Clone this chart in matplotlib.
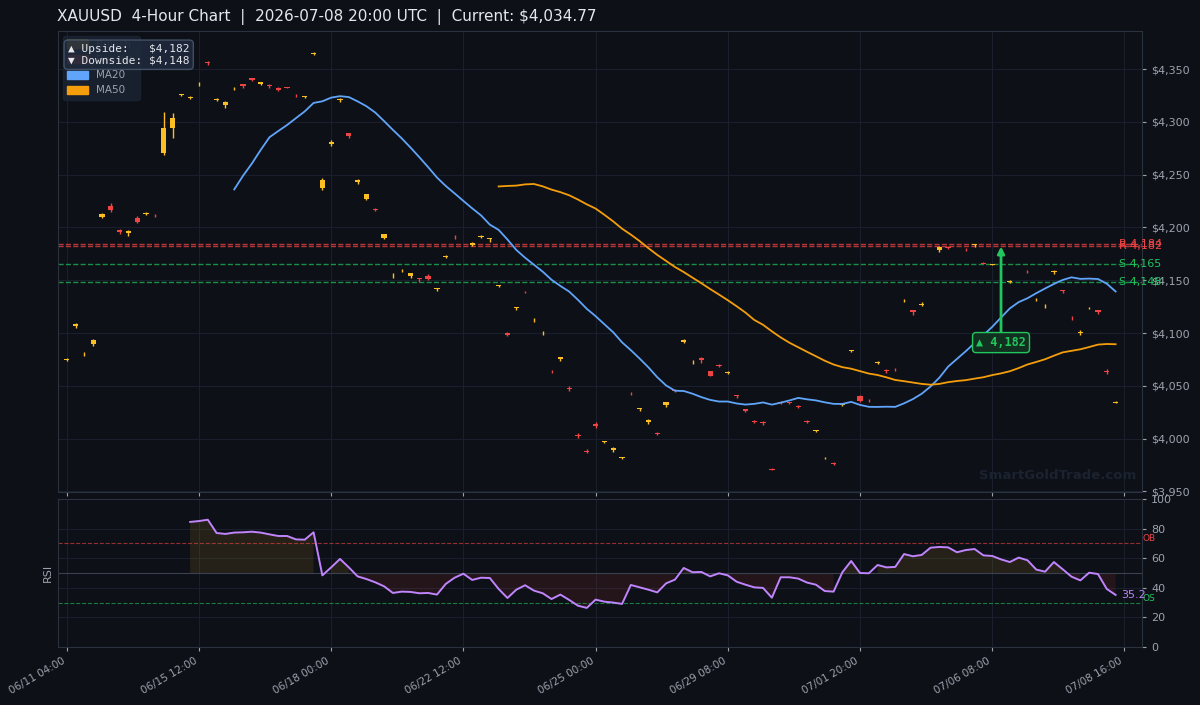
import numpy as np
import pandas as pd
import matplotlib
matplotlib.use('Agg')
import matplotlib.pyplot as plt
from matplotlib.patches import Patch
from matplotlib.ticker import FuncFormatter

# 4h candles (index based x axis)
opens = [
    4074.5, 4106.3, 4080.0, 4090.0, 4210.3, 4220.7, 4197.5, 4195.2, 4209.4, 4212.5,
    4211.3, 4270.6, 4294.2, 4325.0, 4323.0, 4335.6, 4357.0, 4321.1, 4316.0, 4331.1,
    4335.8, 4341.5, 4336.0, 4335.3, 4332.0, 4332.8, 4325.4, 4323.3, 4364.3, 4237.2,
    4279.3, 4320.4, 4289.5, 4243.3, 4227.4, 4217.6, 4190.0, 4154.1, 4158.8, 4153.6,
    4152.0, 4154.5, 4141.6, 4172.3, 4191.3, 4188.0, 4183.6, 4191.2, 4188.6, 4144.4,
    4099.7, 4124.0, 4139.2, 4112.0, 4099.8, 4063.6, 4075.5, 4047.8, 4003.8, 3988.5,
    4013.6, 3996.6, 3989.0, 3981.5, 4042.6, 4028.2, 4015.5, 4005.2, 4031.6, 4045.9,
    4092.0, 4072.5, 4076.4, 4064.0, 4069.3, 4062.6, 4041.0, 4028.0, 4016.8, 4016.0,
    3971.0, 4034.4, 4034.8, 4031.0, 4016.8, 4007.0, 3981.3, 3977.0, 4032.0, 4082.6,
    4040.3, 4036.8, 4071.6, 4065.0, 4066.3, 4130.3, 4122.0, 4126.8, 4152.0, 4178.2,
    4181.3, 4180.0, 4179.6, 4183.6, 4166.1, 4164.6, 4158.0, 4148.6, 4152.0, 4158.0,
    4131.4, 4125.5, 4157.4, 4140.6, 4115.6, 4100.0, 4124.4, 4122.0, 4064.2, 4034.2,
]
highs = [
    4076.5, 4109.2, 4082.4, 4094.0, 4213.5, 4223.0, 4199.0, 4197.5, 4210.5, 4214.5,
    4212.5, 4309.6, 4308.4, 4326.5, 4324.8, 4337.5, 4358.0, 4323.0, 4319.4, 4332.8,
    4336.0, 4341.8, 4338.0, 4335.5, 4333.0, 4333.2, 4326.8, 4324.8, 4365.8, 4246.9,
    4282.5, 4322.4, 4289.8, 4246.0, 4231.8, 4218.8, 4194.2, 4156.5, 4160.5, 4157.2,
    4152.2, 4156.0, 4142.4, 4174.0, 4192.8, 4188.0, 4186.0, 4192.8, 4190.0, 4145.2,
    4101.0, 4124.6, 4140.0, 4114.0, 4101.5, 4065.5, 4077.4, 4049.8, 4005.5, 3990.0,
    4015.5, 3998.0, 3992.0, 3982.5, 4044.0, 4028.8, 4019.0, 4006.5, 4034.6, 4047.5,
    4094.0, 4074.5, 4077.5, 4064.5, 4070.5, 4064.5, 4041.2, 4028.3, 4017.3, 4016.3,
    3972.2, 4036.0, 4035.0, 4032.2, 4017.5, 4008.5, 3982.5, 3977.8, 4034.2, 4084.3,
    4041.0, 4038.0, 4073.2, 4066.0, 4066.5, 4132.0, 4122.3, 4129.0, 4152.0, 4182.0,
    4182.5, 4180.0, 4181.0, 4184.4, 4167.0, 4165.1, 4158.0, 4150.0, 4152.0, 4159.5,
    4133.0, 4128.0, 4160.0, 4140.8, 4115.8, 4103.0, 4125.0, 4122.3, 4066.0, 4035.5,
]
lows = [
    4073.5, 4104.5, 4078.6, 4088.0, 4209.0, 4215.0, 4194.0, 4192.0, 4204.0, 4211.5,
    4209.5, 4268.7, 4284.8, 4324.0, 4321.5, 4334.0, 4354.2, 4319.6, 4313.4, 4330.0,
    4332.3, 4338.5, 4335.0, 4332.0, 4329.0, 4331.8, 4323.6, 4323.0, 4363.6, 4235.3,
    4277.0, 4318.8, 4285.0, 4241.5, 4226.0, 4215.5, 4188.6, 4152.0, 4157.5, 4152.5,
    4148.5, 4150.5, 4140.2, 4171.0, 4189.5, 4188.0, 4182.0, 4190.0, 4186.5, 4143.5,
    4097.5, 4122.0, 4138.0, 4110.5, 4098.5, 4062.0, 4073.9, 4045.5, 4000.5, 3986.0,
    4010.2, 3995.5, 3987.0, 3981.0, 4041.0, 4026.0, 4014.0, 4003.5, 4030.0, 4044.0,
    4091.0, 4071.0, 4072.0, 4059.0, 4068.0, 4061.5, 4038.5, 4025.0, 4015.0, 4013.0,
    3969.9, 4032.5, 4033.2, 4028.6, 4015.0, 4006.0, 3980.5, 3975.5, 4030.5, 4081.7,
    4035.0, 4035.0, 4070.8, 4062.5, 4063.8, 4129.0, 4117.5, 4125.5, 4152.0, 4177.0,
    4179.8, 4180.0, 4178.0, 4181.5, 4165.5, 4164.3, 4158.0, 4147.5, 4152.0, 4156.5,
    4130.2, 4123.5, 4156.0, 4137.5, 4112.5, 4098.5, 4123.0, 4118.0, 4061.0, 4034.0,
]
closes = [
    4075.0, 4108.9, 4080.3, 4093.0, 4212.9, 4217.0, 4196.0, 4196.6, 4205.4, 4213.8,
    4211.0, 4294.2, 4303.7, 4326.3, 4323.3, 4335.9, 4355.4, 4321.4, 4319.1, 4331.4,
    4334.0, 4339.6, 4337.6, 4334.2, 4330.3, 4331.8, 4325.1, 4324.5, 4365.3, 4245.0,
    4280.8, 4321.6, 4286.6, 4244.6, 4231.6, 4216.4, 4194.0, 4154.4, 4159.1, 4157.0,
    4151.0, 4151.4, 4142.3, 4172.6, 4191.0, 4188.0, 4184.9, 4191.5, 4190.0, 4145.2,
    4098.5, 4124.5, 4138.9, 4112.3, 4100.0, 4063.3, 4077.0, 4047.5, 4002.3, 3987.2,
    4012.0, 3997.6, 3991.0, 3982.2, 4042.3, 4028.8, 4018.0, 4004.9, 4034.5, 4045.6,
    4093.2, 4072.8, 4074.6, 4059.7, 4069.0, 4063.6, 4040.2, 4026.4, 4015.5, 4014.5,
    3970.7, 4034.1, 4034.0, 4029.8, 4015.6, 4008.3, 3981.6, 3975.8, 4033.3, 4084.0,
    4036.1, 4036.4, 4073.0, 4063.8, 4065.9, 4130.6, 4120.0, 4128.0, 4152.0, 4181.7,
    4181.0, 4180.0, 4179.3, 4184.3, 4165.8, 4165.1, 4158.0, 4148.9, 4152.0, 4157.7,
    4131.7, 4125.9, 4158.6, 4140.0, 4115.0, 4101.4, 4125.0, 4120.4, 4063.0, 4034.77,
]

# RSI(14), starts at candle 14
rsi_vals = [
    84.5, 85.1, 86.0, 77.0, 76.4, 77.3, 77.5, 77.9, 77.3, 76.1,
    75.0, 75.0, 72.7, 72.5, 77.5, 48.4, 53.8, 59.5, 53.8, 47.7,
    45.9, 43.7, 41.0, 36.5, 37.4, 37.2, 36.3, 36.5, 35.4, 42.6,
    46.8, 49.5, 45.3, 46.8, 46.6, 39.2, 33.1, 38.7, 41.7, 38.1,
    36.3, 32.4, 35.4, 31.8, 27.9, 26.4, 32.0, 30.6, 30.0, 29.1,
    41.9, 40.3, 38.7, 36.9, 43.0, 45.5, 53.4, 50.5, 50.7, 47.7,
    49.8, 48.4, 44.1, 42.1, 40.3, 39.9, 33.3, 47.1, 47.1, 46.2,
    43.5, 42.1, 37.8, 37.4, 50.5, 58.1, 50.0, 49.8, 55.4, 53.8,
    54.1, 62.8, 61.3, 62.2, 67.1, 67.6, 67.3, 64.0, 65.5, 66.2,
    61.9, 61.5, 59.2, 57.4, 60.4, 58.6, 52.3, 50.9, 57.4, 52.5,
    47.5, 45.0, 50.2, 49.3, 39.2, 35.2,
]
rsi_start = 14

resistance = [4184, 4182]
support = [4165, 4148]
target = 4182
tick_idx = list(range(0, 121, 15))
tick_labels = ['06/11 04:00', '06/15 12:00', '06/18 00:00', '06/22 12:00', '06/25 00:00',
               '06/29 08:00', '07/01 20:00', '07/06 08:00', '07/08 16:00']

BG = '#0d1017'
BULL = '#fbbf24'
BEAR = '#ef4444'
C_MA20 = '#60a5fa'
C_MA50 = '#f59e0b'
C_RSI = '#c084fc'
GREEN = '#22c55e'
GRID = '#1a202b'
TXT = '#9ca3af'
SPINE = '#2a323e'

o = np.array(opens); h = np.array(highs); l = np.array(lows); c = np.array(closes)
x = np.arange(len(c))
ma20 = pd.Series(c).rolling(20).mean()
ma50 = pd.Series(c).rolling(50).mean()
up = c >= o
cols = np.where(up, BULL, BEAR)

fig = plt.figure(figsize=(12, 7.05), dpi=100, facecolor=BG)
ax = fig.add_axes([0.0483, 0.3021, 0.9034, 0.6539], facecolor=BG)
ax2 = fig.add_axes([0.0483, 0.0823, 0.9034, 0.2099], facecolor=BG, sharex=ax)

for a in (ax, ax2):
    for s in a.spines.values():
        s.set_color(SPINE)
    a.grid(True, color=GRID, lw=0.8)
    a.set_axisbelow(True)
    a.yaxis.tick_right()
    a.tick_params(colors=TXT, labelsize=8, length=3)

# candles
ax.vlines(x, l, h, colors=cols, lw=1, zorder=3)
ax.bar(x, np.abs(c - o), bottom=np.minimum(o, c), width=0.6, color=cols, zorder=3, lw=0)

ax.plot(x, ma20, color=C_MA20, lw=1.3, zorder=4)
ax.plot(x, ma50, color=C_MA50, lw=1.3, zorder=4)

for v in resistance:
    ax.axhline(v, color=BEAR, ls='--', lw=1, alpha=0.75, zorder=2)
    ax.text(119.4, v, f'R {v:,}', color=BEAR, fontsize=8, va='center', ha='left')
for v in support:
    ax.axhline(v, color=GREEN, ls='--', lw=1, alpha=0.7, zorder=2)
    ax.text(119.4, v, f'S {v:,}', color=GREEN, fontsize=8, va='center', ha='left')

ax.annotate(f'\u25b2 {target:,}', xy=(106, target), xytext=(106, 4091),
            ha='center', va='center', color=GREEN, fontsize=8.5, fontweight='bold',
            family='DejaVu Sans Mono', zorder=8,
            bbox=dict(boxstyle='round,pad=0.3', fc='#12301f', ec=GREEN, lw=1),
            arrowprops=dict(arrowstyle='-|>', color=GREEN, lw=2, mutation_scale=10,
                            shrinkA=0, shrinkB=0))

ax.set_xlim(-1, 122)
ax.set_ylim(3949.5, 4386)
ax.yaxis.set_major_locator(plt.MultipleLocator(50))
ax.yaxis.set_major_formatter(FuncFormatter(lambda v, p: f'${v:,.0f}'))
ax.set_xticks(tick_idx)
ax.tick_params(labelbottom=False)

handles = [Patch(color=BULL, label='Bullish'), Patch(color=BEAR, label='Bearish'),
           Patch(color=C_MA20, label='MA20'), Patch(color=C_MA50, label='MA50')]
leg = ax.legend(handles=handles, loc='upper left', fontsize=7.5, facecolor='#1b2433',
                edgecolor='#1b2433', framealpha=0.85, labelcolor=TXT,
                handlelength=2.0, handleheight=0.8, borderaxespad=0.45)
leg.set_zorder(6)

ax.text(0.0092, 0.972, '\u25b2 Upside:   $4,182\n\u25bc Downside: $4,148',
        transform=ax.transAxes, family='DejaVu Sans Mono', fontsize=8, color='#e5e7eb',
        va='top', ha='left', zorder=10,
        bbox=dict(boxstyle='round,pad=0.35', fc='#1e293b', ec='#475569', alpha=0.92))

ax.text(0.922, 0.035, 'SmartGoldTrade.com', transform=ax.transAxes, ha='center',
        va='center', fontsize=9.5, fontweight='bold', color='#1b2230', zorder=1)

# RSI
rx = np.arange(rsi_start, rsi_start + len(rsi_vals))
r = np.array(rsi_vals)
ax2.fill_between(rx, r, 50, where=r >= 50, color=BULL, alpha=0.1, lw=0)
ax2.fill_between(rx, r, 50, where=r < 50, color=BEAR, alpha=0.1, lw=0)
ax2.plot(rx, r, color=C_RSI, lw=1.4, zorder=4)
ax2.axhline(70, color=BEAR, ls='--', lw=0.8, alpha=0.6)
ax2.axhline(30, color=GREEN, ls='--', lw=0.8, alpha=0.6)
ax2.axhline(50, color='#3a4250', lw=0.8)
ax2.text(122.05, 70, 'OB', color=BEAR, fontsize=6.5, va='bottom', ha='left')
ax2.text(122.05, 30, 'OS', color=GREEN, fontsize=6.5, va='bottom', ha='left')
ax2.text(119.6, r[-1], f'{r[-1]:.1f}', color=C_RSI, fontsize=8, va='center', ha='left')
ax2.set_ylim(0, 100)
ax2.set_yticks(range(0, 101, 20))
ax2.set_ylabel('RSI', color=TXT, fontsize=8)
ax2.set_xticks(tick_idx)
ax2.set_xticklabels(tick_labels, rotation=30, ha='right', fontsize=7.5)

fig.text(57 / 1200, 1 - 17 / 705,
         'XAUUSD  4-Hour Chart  |  2026-07-08 20:00 UTC  |  Current: $4,034.77',
         fontsize=11, color='#e5e7eb', va='center', ha='left')

fig.savefig('out.png', dpi=100, facecolor=BG)
